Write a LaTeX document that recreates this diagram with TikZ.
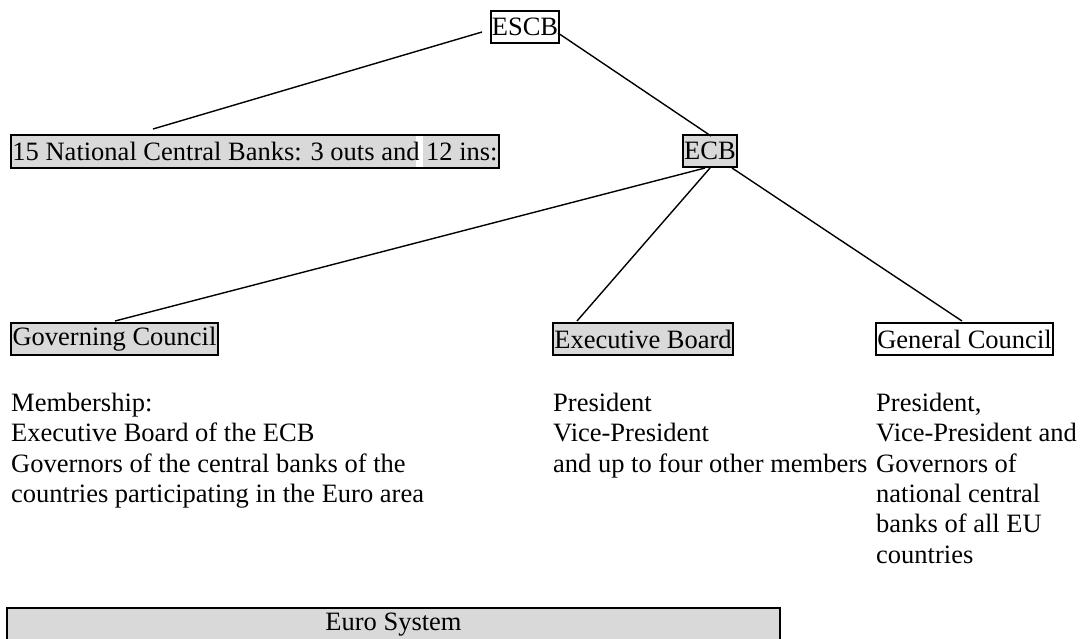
\documentclass[tikz,border=0pt]{standalone}
\usepackage{fontspec}
\setmainfont{Liberation Serif}
\usetikzlibrary{calc}
\definecolor{boxgray}{RGB}{217,217,217}
\begin{document}
\begin{tikzpicture}[x=1pt,y=-1pt,
  every node/.style={font=\fontsize{26.5}{30.3}\selectfont},
  box/.style={draw, line width=1.6pt, inner sep=0pt, minimum height=32pt},
  graybox/.style={box, fill=boxgray},
  link/.style={line width=1.4pt},
  info/.style={align=left, inner sep=0pt, anchor=north west}]
\useasboundingbox (0,0) rectangle (1083,638);
% boxes
\node[box, minimum width=68pt] (escb) at (525,27) {ESCB};
\fill[boxgray] (11,135) rectangle (416,168);
\fill[boxgray] (423,135) rectangle (499,168);
\node[box, minimum width=488pt, minimum height=33pt] (ncb) at (255,151.5) {15 National Central Banks: 3 outs and 12 ins:};
\node[graybox, minimum width=54pt] (ecb) at (710,151) {ECB};
\node[graybox, minimum width=207pt] (gov) at (114.5,339) {Governing Council};
\node[graybox, minimum width=180pt] (exec) at (643,339) {Executive Board};
\node[box, minimum width=177pt] (gen) at (964.5,339) {General Council};
\node[graybox, minimum width=773pt, minimum height=33pt] (euro) at (393.5,624.5) {Euro System};
% connector end points
\coordinate (escbL) at (482,32);
\coordinate (ncbT) at (153,129);
\coordinate (escbR) at (558,33);
\coordinate (ecbT) at (711,136);
\coordinate (ecbB1) at (705,168);
\coordinate (ecbB2) at (710,168);
\coordinate (ecbB3) at (732,168);
\coordinate (govT) at (115,321);
\coordinate (execT) at (577,321);
\coordinate (genT) at (962,321);
\draw[link] (escbL) -- (ncbT);
\draw[link] (escbR) -- (ecbT);
\draw[link] (ecbB1) -- (govT);
\draw[link] (ecbB2) -- (execT);
\draw[link] (ecbB3) -- (genT);
% descriptions
\node[info] (govtext) at (11,393) {Membership:\\Executive Board of the ECB\\Governors of the central banks of the\\countries participating in the Euro area};
\node[info] (exectext) at (553,393) {President\\Vice-President\\and up to four other members};
\node[info] (gentext) at (876,393) {President,\\Vice-President and\\Governors of\\national central\\banks of all EU\\countries};
\end{tikzpicture}
\end{document}
